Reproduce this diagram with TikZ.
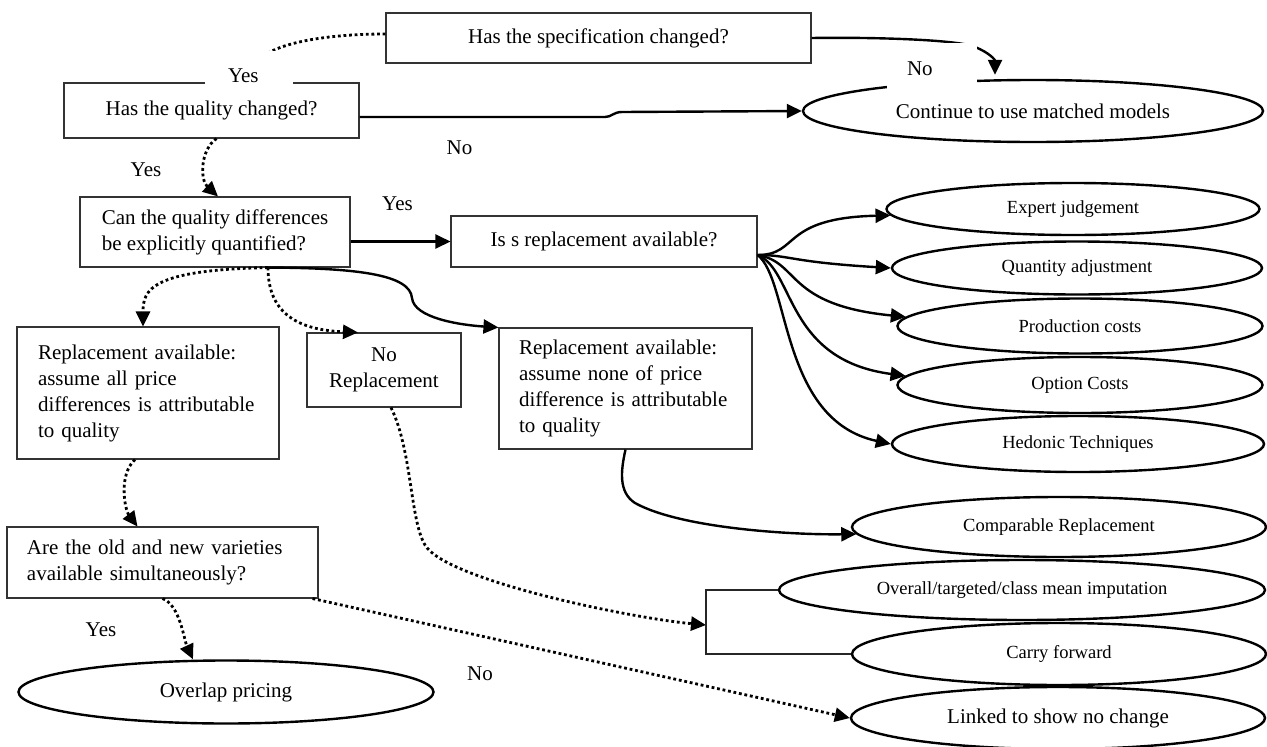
\documentclass[tikz,border=0pt]{standalone}
\usepackage{fontspec}
\setmainfont{Liberation Serif}
\usetikzlibrary{arrows.meta,shapes.geometric,calc}
\begin{document}
\begin{tikzpicture}[x=1pt,y=-1pt,
  box/.style={draw=black!80, line width=1.1pt, rectangle, inner sep=0pt, font=\fontsize{21}{26}\selectfont},
  oval/.style={draw, line width=2.4pt, ellipse, inner sep=0pt, font=\fontsize{21}{24}\selectfont},
  soval/.style={oval, font=\fontsize{18.5}{22}\selectfont},
  conn/.style={line width=2.4pt, -{Triangle[length=15pt,width=14pt]}},
  dconn/.style={line width=2.8pt, dash pattern=on 2.8pt off 2.8pt, -{Triangle[length=15pt,width=14pt]}},
  brkline/.style={line width=1.2pt, draw=black!85},
  lbl/.style={font=\fontsize{21}{24}\selectfont, inner sep=0pt},
  wlbl/.style={lbl, fill=white, align=left},
]
\useasboundingbox (0,0) rectangle (1267,747);

% boxes
\node[box, minimum width=425, minimum height=50] (spec) at (598.5,38) {Has the specification changed?};
\node[box, minimum width=295, minimum height=55] (qual) at (211.5,110.5) {Has the quality changed?};
\node[box, minimum width=270, minimum height=70, align=left] (can) at (215,232) {Can the quality differences\\be explicitly quantified?};
\node[box, minimum width=306, minimum height=51] (isbox) at (604,241.5) {Is s replacement available?};
\node[box, text width=220, inner xsep=21pt, minimum height=132, align=left] (repall) at (148,393) {Replacement available:\\assume all price\\differences is attributable\\to quality};
\node[box, minimum width=154, minimum height=74, align=center] (norep) at (384,370) {No\\Replacement};
\node[box, text width=213, inner xsep=20pt, minimum height=121, align=left] (repnone) at (625.5,388.5) {Replacement available:\\assume none of price\\difference is attributable\\to quality};
\node[box, text width=271, inner xsep=20pt, minimum height=71, align=left] (are) at (162.5,562.5) {Are the old and new varieties\\available simultaneously?};

% ellipses
\node[oval, minimum width=460, minimum height=62] (cont) at (1033,111) {Continue to use matched models};
\node[soval, minimum width=373, minimum height=52] (expert) at (1073,209) {Expert judgement};
\node[soval, minimum width=370, minimum height=53] (quant) at (1077,268) {Quantity adjustment};
\node[soval, minimum width=365, minimum height=55] (prod) at (1080,326) {Production costs};
\node[soval, minimum width=365, minimum height=56] (option) at (1080,385) {Option Costs};
\node[soval, minimum width=372, minimum height=56] (hedonic) at (1078,444) {Hedonic Techniques};
\node[soval, minimum width=414, minimum height=60] (comp) at (1059,527) {Comparable Replacement};
\node[soval, minimum width=486, minimum height=60] (overall) at (1022,590) {Overall/targeted/class mean imputation};
\node[soval, minimum width=414, minimum height=62] (carry) at (1059,654) {Carry forward};
\node[oval, minimum width=414, minimum height=62] (linked) at (1058,718) {Linked to show no change};
\node[oval, minimum width=415, minimum height=63] (overlap) at (226,692) {Overlap pricing};

% helper coordinates
\coordinate (fan) at ([yshift=-13.5pt]isbox.east);
\coordinate (cb) at ([xshift=53pt]can.south);
\coordinate (brk) at (706,625);

% connectors
\draw[dconn] ([yshift=4pt]spec.west) .. controls (320,34) and (260,45) .. ([xshift=38pt]qual.north);
\draw[conn] (spec.east) .. controls (880,37) and (960,40) .. (975,47) .. controls (990,53) and (995,60) .. ([xshift=-38pt,yshift=4pt]cont.north);
\draw[conn] ([yshift=-6.5pt]qual.east) -- (605,117) .. controls (612,117) and (613,112) .. (622,112) -- (cont.west);
\draw[dconn] ([xshift=5pt]qual.south) .. controls (200,150) and (200,180) .. ([xshift=3pt]can.north);
\draw[conn] (can.east |- isbox.west) -- (isbox.west);

\draw[dconn] (cb) .. controls (150,270) and (143,290) .. ([xshift=-5pt]repall.north);
\draw[dconn] (cb) .. controls (268,315) and (300,330) .. ([xshift=-26pt]norep.north);
\draw[conn] (cb) .. controls (360,268) and (410,275) .. (412,298) .. controls (414,318) and (460,325) .. (repnone.north west);

\draw[conn] (fan) .. controls (800,255) and (780,218) .. (expert.182);
\draw[conn] (fan) .. controls (790,255) and (790,262) .. (quant.west);
\draw[conn] (fan) .. controls (800,262) and (785,305) .. (prod.177);
\draw[conn] (fan) .. controls (795,270) and (785,360) .. (option.177);
\draw[conn] (fan) .. controls (790,280) and (780,420) .. (hedonic.west);

\draw[dconn] ([xshift=-13pt]repall.south) .. controls (118,475) and (125,510) .. ([xshift=-25pt]are.north);
\draw[dconn] (are.south) .. controls (180,605) and (184,640) .. ([xshift=-33pt]overlap.north);
\draw[dconn] ([xshift=-6pt]are.south east) -- (linked.west);
\draw[dconn] ([xshift=7pt]norep.south) .. controls (412,450) and (410,520) .. (425,545) .. controls (445,580) and (630,618) .. (brk);
\draw[conn] (repnone.south) .. controls (621,470) and (618,492) .. (635,503) .. controls (680,528) and (790,535) .. (comp.182);

\draw[brkline] (overall.west) -| (brk) |- (carry.west);

% labels
\node[wlbl, text width=88, text height=31, text depth=5] (yes1) at (249,69) {\hspace*{23pt}Yes};
\node[wlbl, text width=90, text height=32, text depth=15] (no1) at (932,66.5) {\hspace*{20pt}No};
\node[lbl] (no2) at (459.5,148) {No};
\node[lbl] (yes2) at (146,170) {Yes};
\node[lbl] (yes3) at (397.5,203.5) {Yes};
\node[lbl] (yes4) at (101,630) {Yes};
\node[lbl] (no3) at (480,674) {No};
\end{tikzpicture}
\end{document}
